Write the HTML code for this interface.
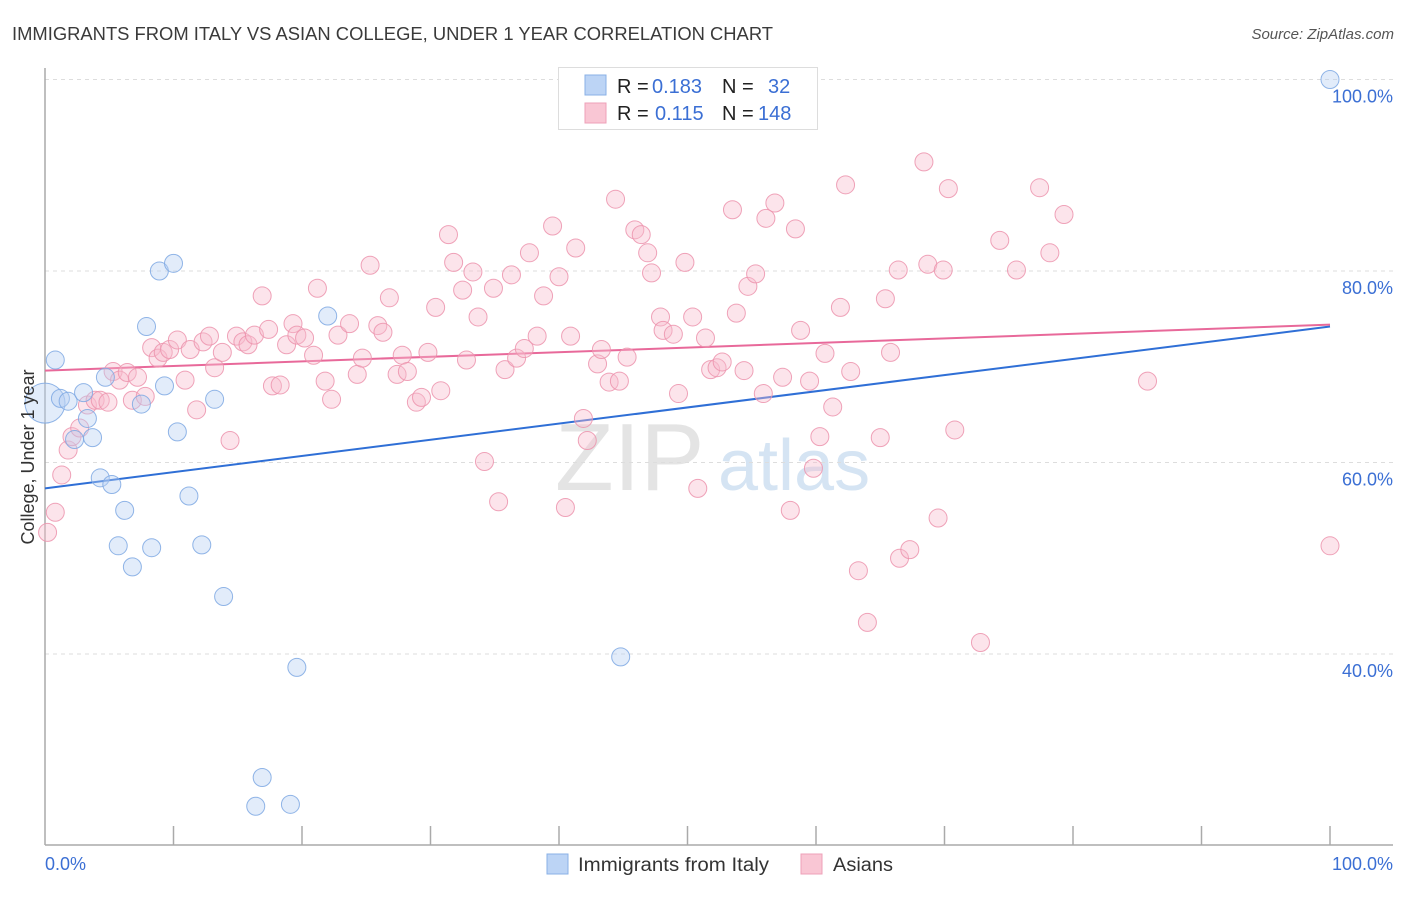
<!DOCTYPE html>
<html><head><meta charset="utf-8"><style>
body{margin:0;background:#fff;font-family:"Liberation Sans",sans-serif}
svg text{font-family:"Liberation Sans",sans-serif}
</style></head><body>
<svg id="chart" width="1406" height="892">
<text x="12" y="40" font-size="18" fill="#3a3a3a" textLength="761" lengthAdjust="spacingAndGlyphs">IMMIGRANTS FROM ITALY VS ASIAN COLLEGE, UNDER 1 YEAR CORRELATION CHART</text>
<text x="1394" y="39" font-size="15" fill="#555" font-style="italic" text-anchor="end">Source: ZipAtlas.com</text>
<g><text x="555" y="490" font-size="96" fill="#e4e4e4" font-family="Liberation Serif">ZIP</text><text x="718" y="490" font-size="72" fill="#d5e4f3">atlas</text></g>
<g id="grid"></g><g id="axes"></g><g id="trend"></g><g id="pts"></g>
<text x="34" y="457" font-size="18" fill="#333" text-anchor="middle" transform="rotate(-90 34 457)">College, Under 1 year</text>
<text x="45" y="870" font-size="18" fill="#3b6fd4">0.0%</text>
<text x="1393" y="870" font-size="18" fill="#3b6fd4" text-anchor="end">100.0%</text>
<g>
<rect x="558.5" y="67.5" width="259" height="62" fill="#fff" stroke="#ddd"/>
<rect x="585" y="75" width="21" height="20" fill="#bcd4f5" stroke="#8ab0e6"/>
<rect x="585" y="103" width="21" height="20" fill="#f9c6d4" stroke="#eea0b8"/>
<text x="617" y="93" font-size="20" fill="#222">R = <tspan x="652" fill="#3b6fd4">0.183</tspan><tspan x="722">N =</tspan><tspan x="768" fill="#3b6fd4">32</tspan></text>
<text x="617" y="120" font-size="20" fill="#222">R = <tspan x="655" fill="#3b6fd4">0.115</tspan><tspan x="722">N =</tspan><tspan x="758" fill="#3b6fd4">148</tspan></text>
</g>
<g>
<rect x="547" y="854" width="21" height="20" fill="#bcd4f5" stroke="#8ab0e6"/>
<text x="578" y="871" font-size="19" fill="#333" textLength="191" lengthAdjust="spacingAndGlyphs">Immigrants from Italy</text>
<rect x="801" y="854" width="21" height="20" fill="#f9c6d4" stroke="#eea0b8"/>
<text x="833" y="871" font-size="19" fill="#333" textLength="60" lengthAdjust="spacingAndGlyphs">Asians</text>
</g>
</svg>
<script>
const yTicks=[40,60,80,100];
const blueX=[0.8,0,1.2,1.8,3.0,3.3,2.3,3.7,4.7,4.3,5.2,7.5,6.2,5.7,6.8,8.3,7.9,8.9,10.0,9.3,10.3,11.2,12.2,13.2,13.9,19.6,16.9,16.4,19.1,22.0,44.8,100];
const blueY=[70.7,66.2,66.7,66.4,67.3,64.6,62.4,62.6,68.9,58.4,57.7,66.1,55.0,51.3,49.1,51.1,74.2,80.0,80.8,68.0,63.2,56.5,51.4,66.6,46.0,38.6,27.1,24.1,24.3,75.3,39.7,100];
const pinkX=[0.2,0.8,1.3,1.8,2.1,2.7,3.3,3.9,4.3,4.9,5.3,5.8,6.4,6.8,7.2,7.8,8.3,8.8,9.2,9.7,10.3,10.9,11.3,11.8,12.3,12.8,13.2,13.8,14.4,14.9,15.4,15.8,16.3,16.9,17.4,17.7,18.3,18.8,19.3,19.6,20.2,20.9,21.2,21.8,22.3,22.8,23.7,24.3,24.7,25.3,25.9,26.3,26.8,27.4,27.8,28.2,28.9,29.3,29.8,30.4,30.8,31.4,31.8,32.5,32.8,33.3,33.7,34.2,34.9,35.3,35.8,36.3,36.7,37.3,37.7,38.3,38.8,39.5,40.0,40.5,40.9,41.3,41.9,42.2,43.0,43.3,43.9,44.4,44.7,45.3,45.9,46.4,46.9,47.2,47.9,48.1,48.9,49.3,49.8,50.4,50.8,51.4,51.8,52.3,52.7,53.5,53.8,54.4,54.7,55.3,55.9,56.1,56.8,57.4,58.0,58.4,58.8,59.5,59.8,60.3,60.7,61.3,61.9,62.3,62.7,63.3,64.0,65.0,65.4,65.8,66.4,66.5,67.3,68.4,68.7,69.5,69.9,70.3,70.8,72.8,74.3,75.6,77.4,78.2,79.3,85.8,100];
const pinkY=[52.7,54.8,58.7,61.3,62.7,63.6,66.0,66.5,66.5,66.3,69.5,68.6,69.4,66.5,68.9,66.9,72.0,70.9,71.5,71.8,72.8,68.6,71.8,65.5,72.6,73.2,69.9,71.5,62.3,73.2,72.6,72.3,73.3,77.4,73.9,68.0,68.1,72.3,74.5,73.3,73.0,71.2,78.2,68.5,66.6,73.3,74.5,69.2,70.9,80.6,74.3,73.6,77.2,69.2,71.2,69.5,66.3,66.8,71.5,76.2,67.5,83.8,80.9,78.0,70.7,79.9,75.2,60.1,78.2,55.9,69.7,79.6,70.9,71.9,81.9,73.2,77.4,84.7,79.4,55.3,73.2,82.4,64.6,62.3,70.3,71.8,68.4,87.5,68.5,71.0,84.3,83.8,81.9,79.8,75.2,73.8,73.4,67.2,80.9,75.2,57.3,73.0,69.7,69.9,70.5,86.4,75.6,69.6,78.4,79.7,67.2,85.5,87.1,68.9,55.0,84.4,73.8,68.5,59.4,62.7,71.4,65.8,76.2,89.0,69.5,48.7,43.3,62.6,77.1,71.5,80.1,50.0,50.9,91.4,80.7,54.2,80.1,88.6,63.4,41.2,83.2,80.1,88.7,81.9,85.9,68.5,51.3];
const blueTrend=[57.3,74.2];
const pinkTrend=[69.6,74.4];

const NS='http://www.w3.org/2000/svg';
const X0=45,X1=1330,YB=845;
const sx=v=>X0+(X1-X0)*v/100;
const sy=v=>79.5+(100-v)*9.575;
function mk(tag,attrs,parent){const e=document.createElementNS(NS,tag);for(const k in attrs)e.setAttribute(k,attrs[k]);parent.appendChild(e);return e;}
const grid=document.getElementById('grid'),axes=document.getElementById('axes'),trend=document.getElementById('trend'),pts=document.getElementById('pts');
yTicks.forEach(t=>{
  const l=mk('line',{x1:X0,x2:1393,y1:sy(t),y2:sy(t),stroke:'#ddd','stroke-dasharray':'4 4'},grid);
  
  
  const tx=mk('text',{x:1393,y:sy(t)+23,'font-size':18,fill:'#3b6fd4','text-anchor':'end'},grid);
  tx.textContent=t.toFixed(1)+'%';
  
  
});
const ya=mk('line',{x1:X0,x2:X0,y1:68,y2:YB,stroke:'#aaa','stroke-width':1.5},axes);


const xa=mk('line',{x1:X0,x2:1393,y1:YB,y2:YB,stroke:'#aaa','stroke-width':1.5},axes);


for(let k=1;k<=10;k++){
  const t=mk('line',{x1:sx(k*10),x2:sx(k*10),y1:826,y2:YB,stroke:'#aaa','stroke-width':1.5},axes);
  
  
}
function dots(xs,ys,fill,stroke,name){
  xs.forEach((x,i)=>{
    const r=(name==='italy-point'&&i===1)?20:9;
    const c=mk('circle',{cx:sx(x),cy:sy(ys[i]),r:r,fill:fill,'fill-opacity':0.4,stroke:stroke,'stroke-width':1,'stroke-opacity':0.85},pts);
    
    
  });
}
dots(pinkX,pinkY,'#f8bccd','#ec93ad','asians-point');
dots(blueX,blueY,'#b7d0f3','#7ea8e3','italy-point');
const bl=mk('line',{x1:sx(0),x2:sx(100),y1:sy(blueTrend[0]),y2:sy(blueTrend[1]),stroke:'#2f6fd6','stroke-width':2},trend);


const pl=mk('line',{x1:sx(0),x2:sx(100),y1:sy(pinkTrend[0]),y2:sy(pinkTrend[1]),stroke:'#e8699a','stroke-width':2},trend);


</script>
</body></html>
